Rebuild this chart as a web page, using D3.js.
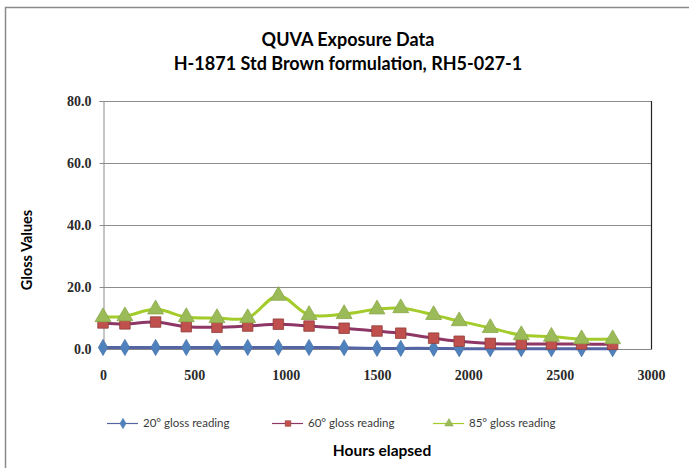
<!DOCTYPE html>
<html>
<head>
<meta charset="utf-8">
<script src="https://cdn.jsdelivr.net/npm/d3@7"></script>
<style>
  body { margin: 0; background: #fff; }
  svg text { fill: #000; }
  .tick-lbl { font-family: "Liberation Serif", serif; font-size: 14px; font-weight: bold; fill: #2a2a2a; }
  .ttl { font-family: Lato, "Open Sans", sans-serif; font-weight: bold; }
  .leg { font-family: Lato, "Open Sans", sans-serif; font-size: 11.5px; fill: #3a3a3a; }
</style>
</head>
<body>
<svg id="chart" width="689" height="468"></svg>
<script>
"use strict";

// hours on the x axis
var hours = [0, 120, 288, 456, 624, 792, 960, 1128, 1320, 1500, 1630, 1810, 1950, 2120, 2290, 2455, 2620, 2790];

// gloss readings per angle
var gloss20 = [0.5, 0.5, 0.5, 0.5, 0.5, 0.5, 0.5, 0.5, 0.4, 0.2, 0.2, 0.2, 0.1, 0.1, 0.1, 0.1, 0.1, 0.1];
var gloss60 = [8.4, 8.1, 8.7, 7.2, 7.0, 7.4, 8.0, 7.4, 6.7, 5.8, 5.1, 3.5, 2.5, 1.8, 1.6, 1.6, 1.6, 1.5];
var gloss85 = [10.3, 10.6, 12.8, 10.3, 10.0, 10.0, 17.2, 11.0, 11.3, 12.8, 13.2, 11.0, 9.0, 6.8, 4.5, 4.0, 3.2, 3.2];

var seriesNames = ["20\u00b0 gloss reading", "60\u00b0 gloss reading", "85\u00b0 gloss reading"];
var xTicks = [0, 500, 1000, 1500, 2000, 2500, 3000];
var yTicks = [0, 20, 40, 60, 80];

var svg = d3.select("#chart");

// chart area border
svg.append("rect").attr("x", 5.5).attr("y", 7.5).attr("width", 700).attr("height", 470)
	.attr("fill", "#fff").attr("stroke", "#8a8a8a").attr("stroke-width", 1.5);

var pl = { x0: 103, x1: 651, y0: 101, y1: 349 };
var x = d3.scaleLinear().domain([0, 3000]).range([pl.x0, pl.x1]);
var y = d3.scaleLinear().domain([0, 80]).range([pl.y1, pl.y0]);

// titles
svg.append("text").attr("class", "ttl").attr("x", 348).attr("y", 46).attr("text-anchor", "middle")
	.style("font-size", "18px").text("QUVA Exposure Data");
svg.append("text").attr("class", "ttl").attr("x", 348).attr("y", 70).attr("text-anchor", "middle")
	.style("font-size", "18px").text("H-1871 Std Brown formulation, RH5-027-1");

// gridlines
svg.append("g").selectAll("line").data(yTicks.filter(function(d) { return d > 0; })).join("line")
	.attr("x1", pl.x0).attr("x2", pl.x1)
	.attr("y1", function(d) { return Math.round(y(d)) + 0.5; })
	.attr("y2", function(d) { return Math.round(y(d)) + 0.5; })
	.attr("stroke", "#8c8c8c").attr("stroke-width", 1);

// plot border right side
svg.append("line").attr("x1", pl.x1 + 0.5).attr("x2", pl.x1 + 0.5).attr("y1", pl.y0).attr("y2", pl.y1 + 0.5)
	.attr("stroke", "#222").attr("stroke-width", 1.2);
svg.append("line").attr("x1", pl.x0).attr("x2", pl.x1 + 1).attr("y1", pl.y1 + 0.5).attr("y2", pl.y1 + 0.5)
	.attr("stroke", "#888");

// y axis
var yAxis = d3.axisLeft(y).tickValues(yTicks).tickSize(4).tickFormat(d3.format(".1f"));
var gy = svg.append("g").attr("transform", "translate(" + (pl.x0 + 0.5) + ",0)").call(yAxis);
gy.select(".domain").attr("stroke", "#8c8c8c");
gy.selectAll(".tick line").attr("stroke", "#8c8c8c");
gy.selectAll(".tick text").attr("class", "tick-lbl").attr("x", -12).attr("dy", "0.35em");

// x axis labels
var xAxis = d3.axisBottom(x).tickValues(xTicks).tickSize(0).tickFormat(d3.format("d"));
var gx = svg.append("g").attr("transform", "translate(0," + (pl.y1) + ")").call(xAxis);
gx.select(".domain").remove();
gx.selectAll(".tick text").attr("class", "tick-lbl").attr("y", 21).attr("dy", "0.71em");

// axis titles
svg.append("text").attr("class", "ttl").attr("transform", "translate(32,250) rotate(-90)")
	.attr("text-anchor", "middle").style("font-size", "14.5px").text("Gloss Values");
svg.append("text").attr("class", "ttl").attr("x", 382).attr("y", 456).attr("text-anchor", "middle")
	.style("font-size", "15.5px").text("Hours elapsed");

var series = [
	{ name: seriesNames[0], vals: gloss20, line: "#5565a4", fill: "#4f81bd", edge: "#4a76ad", shape: d3.symbolDiamond },
	{ name: seriesNames[1], vals: gloss60, line: "#8e3766", fill: "#c0504d", edge: "#8f3d3a", shape: d3.symbolSquare },
	{ name: seriesNames[2], vals: gloss85, line: "#a3cc2a", fill: "#9bbb59", edge: "#8aa94a", shape: d3.symbolTriangle }
];

var lineGen = d3.line().curve(d3.curveCatmullRom.alpha(0.5))
	.x(function(d) { return x(d[0]); }).y(function(d) { return y(d[1]); });

series.forEach(function(s) {
	var pts = hours.map(function(h, i) { return [h, s.vals[i]]; });
	svg.append("path").datum(pts).attr("d", lineGen).attr("fill", "none")
		.attr("stroke", s.line).attr("stroke-width", 3).attr("stroke-linejoin", "round");
	svg.append("g").selectAll("path").data(pts).join("path")
		.attr("transform", function(d) { return "translate(" + x(d[0]) + "," + y(d[1]) + ")"; })
		.attr("d", d3.symbol().type(s.shape).size(s.shape === d3.symbolDiamond ? 75 : 110))
		.attr("fill", s.fill).attr("stroke", s.edge).attr("stroke-width", 0.8);
});

// legend
var legX = [107, 272, 433];
series.forEach(function(s, i) {
	var g = svg.append("g").attr("transform", "translate(" + legX[i] + ",423)");
	g.append("line").attr("x1", 0).attr("x2", 31).attr("y1", 0.5).attr("y2", 0.5)
		.attr("stroke", s.line).attr("stroke-width", 1.2);
	g.append("path").attr("transform", "translate(16,0.5)")
		.attr("d", d3.symbol().type(s.shape).size(32))
		.attr("fill", s.fill).attr("stroke", s.edge).attr("stroke-width", 0.5);
	g.append("text").attr("class", "leg").attr("x", 36).attr("y", 4).text(s.name);
});
</script>
</body>
</html>
